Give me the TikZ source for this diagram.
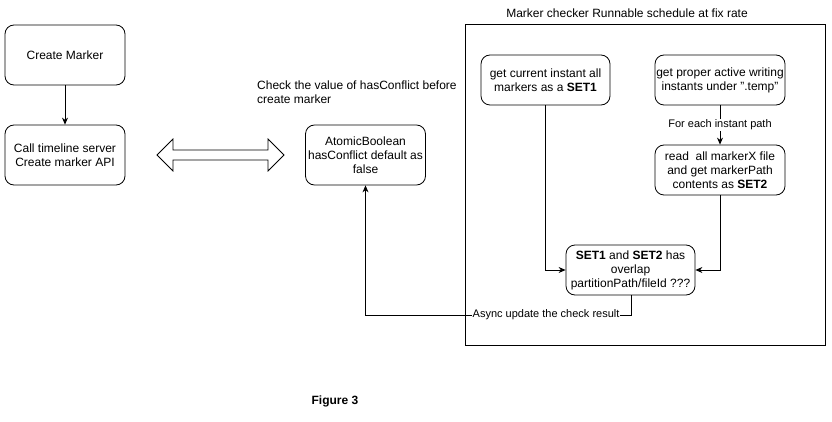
\documentclass[tikz,border=0pt]{standalone}
\usepackage{fontspec}
\setmainfont{Liberation Sans}
\usetikzlibrary{arrows.meta,calc}
\begin{document}
\begin{tikzpicture}[x=1pt,y=-1pt,
  box/.style={draw,rounded corners=9pt,line width=0.8pt,align=center,font=\fontsize{12}{14}\selectfont,inner sep=0pt},
  conn/.style={line width=0.8pt,-{Stealth[length=7pt,width=6pt]}},
  lbl/.style={font=\fontsize{11}{13}\selectfont,fill=white,inner sep=1pt}]
\useasboundingbox (0,0) rectangle (832,422);
\node[box,minimum width=120pt,minimum height=60pt] (create) at (65,55) {Create Marker};
\node[box,minimum width=120pt,minimum height=60pt] (call) at (65,155) {Call timeline server\\Create marker API};
\draw[conn] (create) -- (call);
\draw[line width=0.8pt] (157,155) -- (173,139) -- (173,150) -- (268,150) -- (268,139) -- (284,155) -- (268,171) -- (268,160) -- (173,160) -- (173,171) -- cycle;
\node[align=left,anchor=north west,font=\fontsize{12}{14}\selectfont,inner sep=0pt] (check) at (257,81) {Check the value of hasConflict before\\create marker};
\node[box,minimum width=120pt,minimum height=60pt] (atomic) at (365.5,155) {AtomicBoolean\\hasConflict default as\\false};
\node[draw,line width=0.8pt,minimum width=360pt,minimum height=321pt,inner sep=0pt] (frame) at (645.5,184.5) {};
\node[font=\fontsize{12}{14}\selectfont,inner sep=0pt] (title) at (627,13) {Marker checker Runnable schedule at fix rate};
\node[box,minimum width=129pt,minimum height=50pt] (set1) at (545.5,80) {get current instant all\\markers as a \textbf{SET1}};
\node[box,minimum width=130pt,minimum height=50pt] (temp) at (720,80) {get proper active writing\\instants under ".temp"};
\node[box,minimum width=130pt,minimum height=50pt] (read) at (720,170) {read\ \ all markerX file\\and get markerPath\\contents as \textbf{SET2}};
\node[box,minimum width=129pt,minimum height=50pt] (overlap) at (630.5,270) {\textbf{SET1} and \textbf{SET2} has\\overlap\\partitionPath/fileId ???};
\draw[conn] (temp) -- node[lbl] {For each instant path} (read);
\draw[conn] (set1.south) |- (overlap.west);
\draw[conn] (read.south) |- (overlap.east);
\coordinate (c1) at (631,315);
\draw[conn] (overlap.south -| c1) -- (c1) -- node[lbl,pos=0.32] {Async update the check result} (c1 -| atomic.south) -- (atomic.south);
\node[font=\bfseries\fontsize{12}{14}\selectfont,inner sep=0pt] (fig) at (335,401) {Figure 3};
\end{tikzpicture}
\end{document}
